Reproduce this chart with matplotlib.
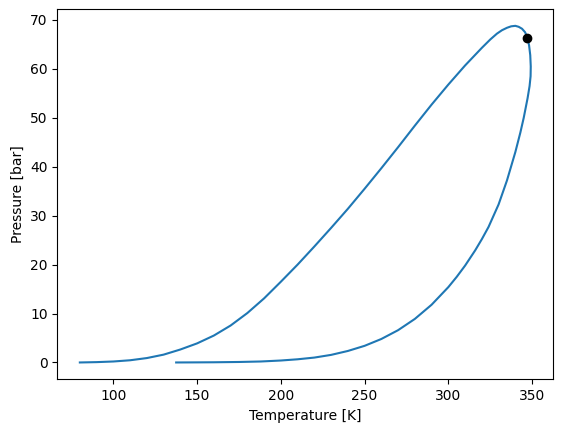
import matplotlib
matplotlib.use("Agg")
import matplotlib.pyplot as plt

# Bubble branch (low T -> critical point)
bubble_T = [80, 90, 100, 110, 120, 130, 140, 150, 160, 170, 180, 190, 200, 210, 220,
            230, 240, 250, 260, 270, 280, 290, 300, 310, 320, 325, 329, 332, 335,
            337.5, 340, 342, 344, 345.8, 347.2]
bubble_P = [0.0, 0.07, 0.2, 0.45, 0.9, 1.6, 2.65, 3.9, 5.5, 7.55, 10.1, 13.1, 16.5, 20.0, 23.7,
            27.5, 31.4, 35.5, 39.7, 44.0, 48.4, 52.7, 56.8, 60.7, 64.3, 66.0, 67.2, 67.9, 68.4,
            68.7, 68.8, 68.6, 68.2, 67.5, 66.4]

# Dew branch (critical point -> low T)
dew_T = [348.2, 348.9, 349.2, 349.1, 348.5, 347.3, 345, 343, 340, 335, 330, 324, 320, 316,
         310, 305, 300, 290, 280, 270, 260, 250, 240, 230, 220, 210, 200, 188, 175, 160,
         150, 137.5]
dew_P = [64.8, 62.8, 60.5, 58.5, 56.5, 54.0, 50.0, 47.0, 43.0, 37.2, 32.3, 27.7, 25.2, 22.9,
         19.8, 17.5, 15.4, 11.8, 8.9, 6.6, 4.8, 3.4, 2.35, 1.55, 1.0, 0.65, 0.4, 0.2, 0.1, 0.04,
         0.02, 0.0]

crit_T = [347.2]
crit_P = [66.4]

fig = plt.figure(figsize=(5.62, 4.32), dpi=100)
ax = fig.add_axes([57.3 / 562, 1 - 379.3 / 432, 496 / 562, 370.3 / 432])
ax.plot(bubble_T + dew_T, bubble_P + dew_P, color="C0")
ax.scatter(crit_T, crit_P, color="k", zorder=3)
ax.set_xlabel("Temperature [K]")
ax.set_ylabel("Pressure [bar]")
fig.savefig("out.png", dpi=100)
